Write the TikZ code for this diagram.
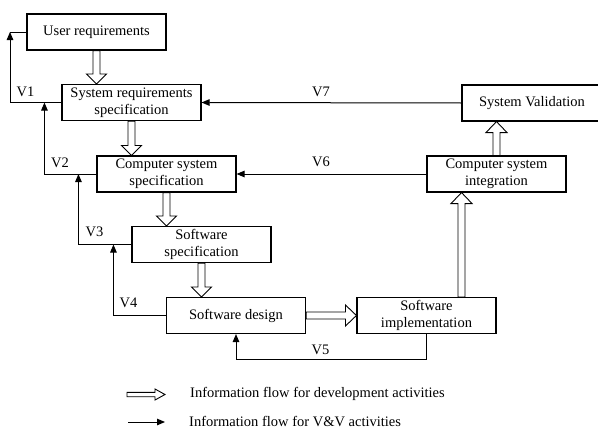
\documentclass[tikz,border=0pt]{standalone}
\usepackage{fontspec}
\setmainfont{Liberation Serif}
\usetikzlibrary{arrows.meta,calc}
\newcommand{\blkdn}[2]{%
  \draw[blk] let \p1=(#1), \p2=(#2) in
  (\x1-3.5pt,\y1) -- (\x1-3.5pt,\y2+10pt) -- (\x1-10pt,\y2+10pt) -- (\x1,\y2)
  -- (\x1+10pt,\y2+10pt) -- (\x1+3.5pt,\y2+10pt) -- (\x1+3.5pt,\y1) -- cycle;}
\newcommand{\blkup}[2]{%
  \draw[blk] let \p1=(#1), \p2=(#2) in
  (\x1-3.5pt,\y1) -- (\x1-3.5pt,\y2-11pt) -- (\x1-10.5pt,\y2-11pt) -- (\x1,\y2)
  -- (\x1+10.5pt,\y2-11pt) -- (\x1+3.5pt,\y2-11pt) -- (\x1+3.5pt,\y1) -- cycle;}
\newcommand{\blkrt}[5]{%
  \draw[blk] let \p1=(#1), \p2=(#2) in
  (\x1,\y1+#3) -- (\x2-#5,\y1+#3) -- (\x2-#5,\y1+#4) -- (\x2,\y1)
  -- (\x2-#5,\y1-#4) -- (\x2-#5,\y1-#3) -- (\x1,\y1-#3) -- cycle;}
\begin{document}
\begin{tikzpicture}[x=1pt,y=-1pt,
  txt/.style={font=\fontsize{14.5}{17}\selectfont},
  box/.style={draw, line width=1.1pt, minimum width=139pt, minimum height=36pt,
    inner sep=0pt, align=center, txt},
  blk/.style={draw, line width=0.9pt, fill=white, line join=miter},
  vv/.style={line width=1pt, -{Triangle[length=8pt,width=6.5pt]}},
  lbl/.style={inner sep=0pt, txt}]
\useasboundingbox (0,0) rectangle (598,442);

\node[box] (ur) at (96.5,32) {User requirements};
\node[box] (sr) at (131.5,102.5) {System requirements\\specification};
\node[box] (cs) at (166.5,174) {Computer system\\specification};
\node[box] (ss) at (201.5,244.5) {Software\\specification};
\node[box] (sd) at (236,315.5) {Software design};
\node[box] (si) at (426.5,315.5) {Software\\implementation};
\node[box] (ci) at (496.5,174) {Computer system\\integration};
\node[box, minimum width=140pt] (sv) at (532,103) {System Validation};

% development flow
\blkdn{ur.south}{sr.north}
\blkdn{sr.south}{cs.north}
\blkdn{cs.south}{ss.north}
\blkdn{ss.south}{sd.north}
\blkrt{sd.east}{si.west}{3.5pt}{10.5pt}{11pt}
\coordinate (sia) at ($(si.north west)!0.75!(si.north east)$);
\blkup{sia}{ci.south}
\blkup{ci.north}{sv.south}

% V&V flow
\coordinate (c1) at (10,32);
\draw[vv] (sr.west) -| (c1);
\draw[line width=1pt] (c1) -- (ur.west);
\path (sr.west) ++(-17,0) coordinate (c2);
\draw[vv] (cs.west) -| (c2);
\path (cs.west) ++(-18,0) coordinate (c3);
\draw[vv] (ss.west) -| (c3);
\path (ss.west) ++(-18,0) coordinate (c4);
\draw[vv] (sd.west) -| (c4);
\draw[vv] (si.south) -- ++(0,25) -| (sd.south);
\draw[vv] (ci.west) -- (cs.east);
\draw[vv] (sv.west) -- (sr.east);

\node[lbl] (v1) at (25.5,91.5) {V1};
\node[lbl] (v2) at (60,162.5) {V2};
\node[lbl] (v3) at (94.5,232) {V3};
\node[lbl] (v4) at (128.5,303) {V4};
\node[lbl] (v5) at (320.5,350) {V5};
\node[lbl] (v6) at (321,162) {V6};
\node[lbl] (v7) at (321,92) {V7};

% legend
\coordinate (la1) at (127,394.5);
\coordinate (la2) at (165,394.5);
\blkrt{la1}{la2}{2.2pt}{5.5pt}{10pt}
\coordinate (lb1) at (128,422);
\coordinate (lb2) at (165,422);
\draw[vv] (lb1) -- (lb2);
\node[lbl, anchor=west] (lt1) at (190,394) {Information flow for development activities};
\node[lbl, anchor=west] (lt2) at (189,422) {Information flow for V\&V activities};
\end{tikzpicture}
\end{document}
